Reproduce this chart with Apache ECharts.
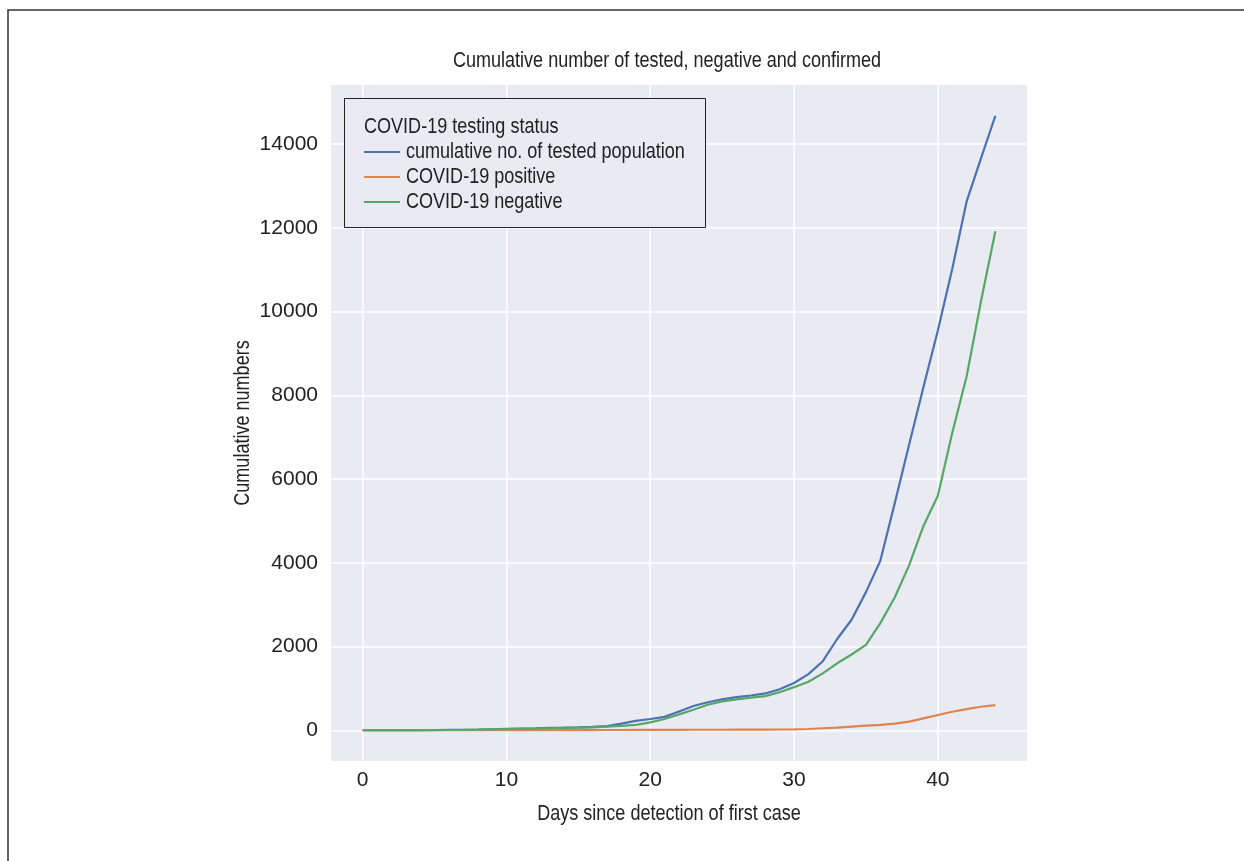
<!DOCTYPE html>
<html>
<head>
<meta charset="utf-8">
<script src="https://cdn.jsdelivr.net/npm/echarts@6/dist/echarts.min.js"></script>
<style>
html,body{margin:0;padding:0;background:#fff;}
#chart{width:1244px;height:861px;}
</style>
</head>
<body>
<div id="chart"></div>
<script>
const days = Array.from({length: 45}, (_, i) => i);
const tested = [1,2,3,4,5,6,8,10,15,25,35,40,45,55,62,70,80,100,160,225,270,320,450,580,670,740,790,830,880,980,1130,1340,1650,2180,2640,3300,4050,5420,6820,8200,9550,11020,12630,13660,14680];
const positive = [1,1,1,1,1,1,1,1,2,2,3,3,3,3,3,4,5,6,7,8,9,10,11,12,12,13,14,15,16,18,20,30,48,65,87,110,127,158,206,285,364,443,506,562,601];
const negative = [0,1,2,3,4,5,7,9,13,22,30,35,40,48,55,62,70,85,105,130,190,270,380,490,610,690,740,780,815,910,1030,1160,1360,1600,1810,2040,2560,3170,3940,4880,5600,7100,8450,10250,11920];
const xTicks = [0, 10, 20, 30, 40];
const yTicks = [0, 2000, 4000, 6000, 8000, 10000, 12000, 14000];
const seriesNames = ['cumulative no. of tested population', 'COVID-19 positive', 'COVID-19 negative'];
const colors = ['#4C72B0', '#DD8452', '#55A868'];
const titleText = 'Cumulative number of tested, negative and confirmed';
const xTitle = 'Days since detection of first case';
const yTitle = 'Cumulative numbers';
const legendTitle = 'COVID-19 testing status';

const FONT = '"Liberation Sans", Arial, sans-serif';
const SX = 0.82;
const chart = echarts.init(document.getElementById('chart'));
const toPairs = arr => arr.map((v, i) => [days[i], v]);

const txt = (text, x, y, align, extra) => Object.assign({
  type: 'text', x: x, y: y, scaleX: SX, z: 6, silent: true,
  style: {text: text, font: '22px ' + FONT, fill: '#222222', textAlign: align, textVerticalAlign: 'middle'}
}, extra || {});

const legendGraphics = [];
seriesNames.forEach((n, i) => {
  const cy = 152 + i * 25;
  legendGraphics.push({type: 'line', shape: {x1: 364, y1: cy, x2: 400, y2: cy}, style: {stroke: colors[i], lineWidth: 2}, z: 6, silent: true});
  legendGraphics.push(txt(n, 406, cy, 'left'));
});

chart.setOption({
  animation: false,
  backgroundColor: '#ffffff',
  textStyle: {fontFamily: FONT},
  grid: {left: 331, top: 85, width: 696, height: 676, backgroundColor: '#EAEAF2', show: true, borderWidth: 0},
  xAxis: {
    type: 'value', min: -2.2, max: 46.2,
    axisLine: {show: false},
    axisTick: {show: false, customValues: xTicks},
    splitLine: {show: true, lineStyle: {color: '#ffffff', width: 1.5}},
    axisLabel: {fontFamily: FONT, fontSize: 21, color: '#222222', margin: 9, customValues: xTicks, formatter: v => String(v)}
  },
  yAxis: {
    type: 'value', min: -734, max: 15414,
    axisLine: {show: false},
    axisTick: {show: false, customValues: yTicks},
    splitLine: {show: true, lineStyle: {color: '#ffffff', width: 1.5}},
    axisLabel: {fontFamily: FONT, fontSize: 21, color: '#222222', margin: 13, customValues: yTicks, formatter: v => String(v)}
  },
  graphic: [
    {type: 'rect', shape: {x: 8, y: 10, width: 1300, height: 900}, style: {fill: 'none', stroke: '#333333', lineWidth: 1.5}, z: 1, silent: true},
    {type: 'rect', shape: {x: 344.5, y: 98.5, width: 361, height: 129}, style: {fill: '#EAEAF2', stroke: '#222222', lineWidth: 1}, z: 5, silent: true},
    txt(legendTitle, 364, 127, 'left'),
    txt(titleText, 667, 61, 'center'),
    txt(xTitle, 669, 814, 'center'),
    txt(yTitle, 243, 423, 'center', {rotation: Math.PI / 2})
  ].concat(legendGraphics),
  series: [
    {name: seriesNames[0], type: 'line', data: toPairs(tested), symbol: 'none', lineStyle: {color: colors[0], width: 2.2}, itemStyle: {color: colors[0]}, z: 2},
    {name: seriesNames[1], type: 'line', data: toPairs(positive), symbol: 'none', lineStyle: {color: colors[1], width: 2.2}, itemStyle: {color: colors[1]}, z: 2},
    {name: seriesNames[2], type: 'line', data: toPairs(negative), symbol: 'none', lineStyle: {color: colors[2], width: 2.2}, itemStyle: {color: colors[2]}, z: 2}
  ]
});
</script>
</body>
</html>
